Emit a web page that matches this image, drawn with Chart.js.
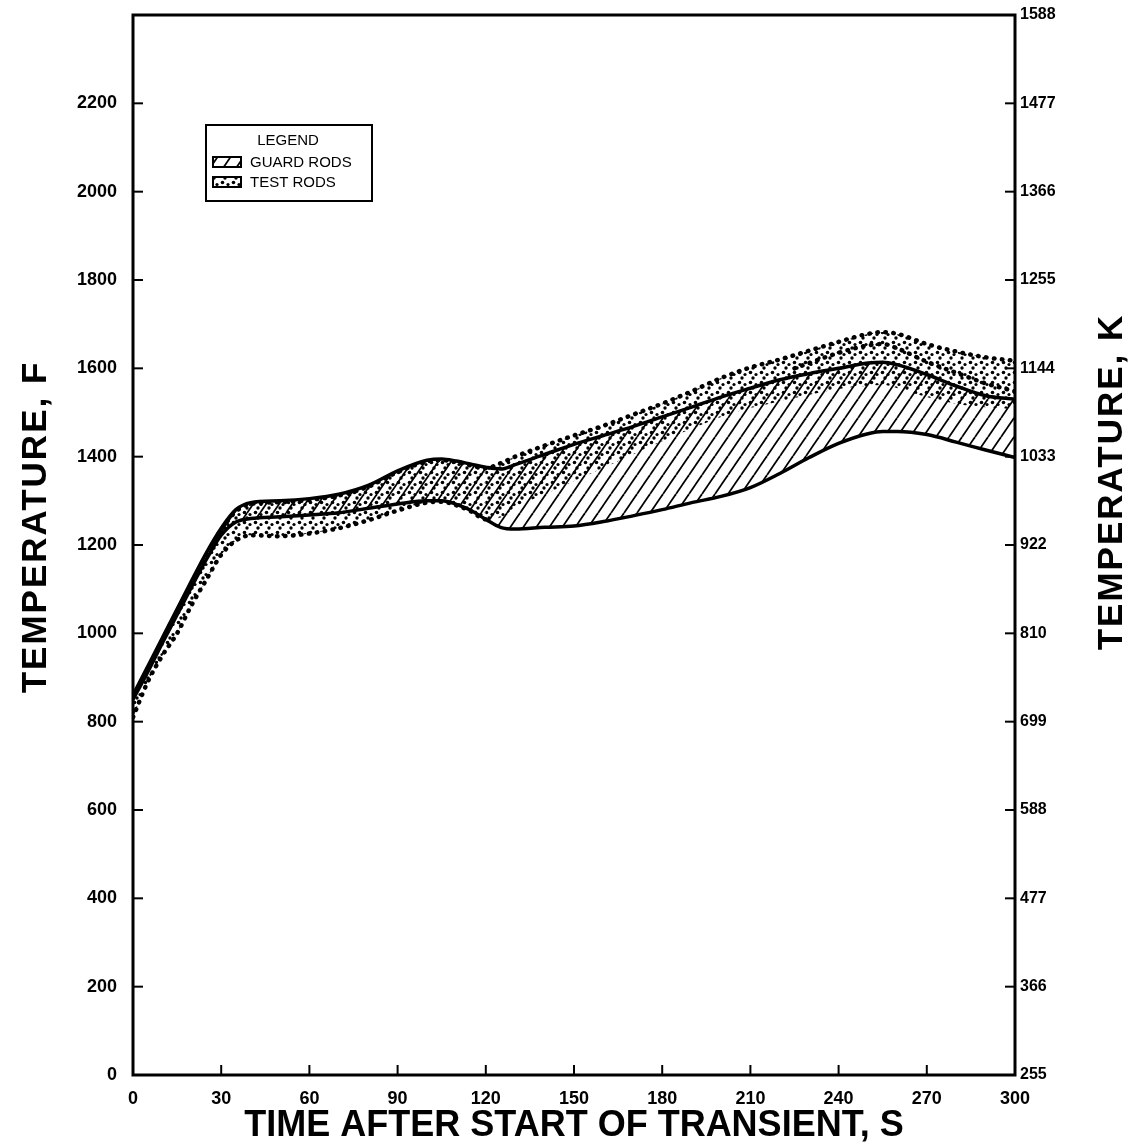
<!DOCTYPE html>
<html><head><meta charset="utf-8">
<script src="https://cdn.jsdelivr.net/npm/chart.js@4.4.0/dist/chart.umd.min.js"></script>
<style>html,body{margin:0;padding:0;background:#fff;}</style>
</head><body>
<canvas id="c" width="1132" height="1148"></canvas>
<script>
// ---- data ----
const times = [0,5,10,15,20,25,30,35,40,50,60,70,80,90,100,105,110,115,120,125,130,140,150,160,170,180,190,200,210,220,230,240,250,255,260,270,280,290,300];
const guardUpper = [860,925,990,1055,1120,1183,1238,1280,1296,1300,1305,1315,1335,1368,1392,1395,1390,1383,1376,1372,1382,1405,1428,1448,1468,1490,1512,1535,1555,1574,1588,1600,1612,1614,1608,1586,1560,1538,1530];
const guardLower = [850,912,978,1042,1106,1168,1222,1252,1260,1264,1268,1273,1283,1293,1300,1300,1292,1278,1258,1240,1236,1240,1243,1253,1266,1280,1296,1310,1330,1362,1398,1430,1452,1457,1457,1450,1433,1415,1398];
const testUpper = [855,920,985,1050,1115,1178,1234,1276,1293,1297,1302,1312,1332,1365,1389,1392,1388,1380,1374,1385,1400,1425,1448,1470,1495,1520,1548,1578,1602,1620,1640,1660,1678,1682,1678,1655,1638,1625,1617];
const testLower = [810,890,950,1000,1065,1122,1178,1210,1222,1220,1226,1238,1256,1278,1296,1298,1290,1276,1258,1262,1285,1315,1345,1375,1405,1435,1463,1490,1510,1525,1540,1553,1560,1562,1555,1535,1520,1512,1508];
const innerTimes = [225,230,240,250,255,260,270,280,290,300];
const testInner = [1600,1612,1635,1652,1655,1645,1615,1590,1566,1548];

const xTickLabels = ['0','30','60','90','120','150','180','210','240','270','300'];
const leftTickLabels = ['0','200','400','600','800','1000','1200','1400','1600','1800','2000','2200',''];
const rightTickLabels = ['255','366','477','588','699','810','922','1033','1144','1255','1366','1477','1588'];
const legendTitle = 'LEGEND';
const legendLabels = ['GUARD RODS','TEST RODS'];
const xTitle = 'TIME AFTER START OF TRANSIENT, S';
const yTitle = 'TEMPERATURE, F';
const yKTitle = 'TEMPERATURE, K';

// ---- patterns ----
function hatchPattern(){
  const w=13,h=19,c=document.createElement('canvas');c.width=w;c.height=h;
  const g=c.getContext('2d');g.strokeStyle='#000';g.lineWidth=1.8;
  for(let k=-1;k<=1;k++){g.beginPath();g.moveTo(k*w,h);g.lineTo((k+1)*w,0);g.stroke();}
  return g.createPattern(c,'repeat');
}
function dotPattern(){
  const w=11,h=10,c=document.createElement('canvas');c.width=w;c.height=h;
  const g=c.getContext('2d');g.fillStyle='#000';
  [[2.5,2.5,1.8],[8,4.5,1.6],[5,8,1.7]].forEach(d=>{g.beginPath();g.arc(d[0],d[1],d[2],0,Math.PI*2);g.fill();});
  return g.createPattern(c,'repeat');
}
const HATCH=hatchPattern(), DOTS=dotPattern();

const pts=(tt,arr)=>tt.map((t,i)=>({x:t,y:arr[i]}));
const FONT='"Liberation Sans", Arial, sans-serif';

const decor={
  id:'decor',
  afterDraw(chart){
    const ctx=chart.ctx,a=chart.chartArea;
    const x=chart.scales.x,y=chart.scales.y,yk=chart.scales.yK;
    ctx.save();
    ctx.strokeStyle='#000';ctx.lineWidth=3;
    ctx.strokeRect(a.left,a.top,a.right-a.left,a.bottom-a.top);
    ctx.lineWidth=2;
    const ln=(x1,y1,x2,y2)=>{ctx.beginPath();ctx.moveTo(x1,y1);ctx.lineTo(x2,y2);ctx.stroke();};
    x.ticks.forEach((t,i)=>{const p=x.getPixelForTick(i);ln(p,a.bottom,p,a.bottom-10);});
    y.ticks.forEach((t,i)=>{const p=y.getPixelForTick(i);ln(a.left,p,a.left+10,p);});
    yk.ticks.forEach((t,i)=>{const p=yk.getPixelForTick(i);ln(a.right,p,a.right-10,p);});
    // titles
    ctx.fillStyle='#000';ctx.textAlign='center';ctx.textBaseline='middle';
    ctx.font='bold 36px '+FONT;
    ctx.fillText(xTitle,(a.left+a.right)/2,1126);
    ctx.font='bold 35px '+FONT;
    ctx.letterSpacing='2px';
    ctx.save();ctx.translate(36,527);ctx.rotate(-Math.PI/2);ctx.fillText(yTitle,0,0);ctx.restore();
    ctx.save();ctx.translate(1112,482);ctx.rotate(-Math.PI/2);ctx.fillText(yKTitle,0,0);ctx.restore();
    ctx.letterSpacing='0px';
    // legend
    ctx.lineWidth=2;ctx.strokeRect(206,125,166,76);
    ctx.font='15px '+FONT;
    ctx.fillText(legendTitle,288,141);
    ctx.textAlign='left';
    const sw=[HATCH,DOTS];
    legendLabels.forEach((lab,i)=>{
      const yy=162+i*20;
      ctx.fillStyle='#fff';ctx.fillRect(213,yy-5,28,10);
      ctx.fillStyle=sw[i];ctx.fillRect(213,yy-5,28,10);
      ctx.strokeRect(213,yy-5,28,10);
      ctx.fillStyle='#000';ctx.fillText(lab,250,yy+1);
    });
    ctx.restore();
  }
};

const solid={borderColor:'#000',borderWidth:3.5,pointRadius:0,cubicInterpolationMode:'monotone'};
const dotted={borderColor:'#000',borderWidth:4.5,borderDash:[0.5,7.5],borderCapStyle:'round',pointRadius:0,cubicInterpolationMode:'monotone'};

new Chart(document.getElementById('c'),{
  type:'line',
  data:{datasets:[
    Object.assign({label:'Guard rods upper',data:pts(times,guardUpper),fill:'+1',backgroundColor:HATCH},solid),
    Object.assign({label:'Guard rods lower',data:pts(times,guardLower),fill:false},solid),
    Object.assign({label:'Test rods upper',data:pts(times,testUpper),fill:'+1',backgroundColor:DOTS},dotted),
    Object.assign({label:'Test rods lower',data:pts(times,testLower),fill:false,
      segment:{borderColor:c=>c.p0.parsed.x>=118?'rgba(0,0,0,0)':'#000'}},dotted),
    Object.assign({label:'Test rods inner',data:pts(innerTimes,testInner),fill:false},dotted)
  ]},
  options:{
    responsive:false,animation:false,devicePixelRatio:1,
    layout:{padding:{top:15,left:0,right:0,bottom:0}},
    plugins:{legend:{display:false},tooltip:{enabled:false}},
    scales:{
      x:{type:'linear',position:'bottom',min:0,max:300,
        grid:{display:false,drawTicks:false},border:{display:false},
        ticks:{stepSize:30,autoSkip:false,maxRotation:0,padding:13,color:'#000',font:{family:FONT,size:18,weight:'bold'},
          callback:(v,i)=>xTickLabels[i]},
        afterFit:s=>{s.height=73;s.paddingLeft=0;s.paddingRight=0;}},
      y:{type:'linear',position:'left',min:0,max:2400,
        grid:{display:false,drawTicks:false},border:{display:false},
        ticks:{stepSize:200,autoSkip:false,padding:16,color:'#000',font:{family:FONT,size:18,weight:'bold'},
          callback:(v,i)=>leftTickLabels[i]},
        afterFit:s=>{s.width=133;s.paddingTop=0;s.paddingBottom=0;}},
      yK:{type:'linear',position:'right',min:0,max:2400,
        grid:{display:false,drawTicks:false},border:{display:false},
        ticks:{stepSize:200,autoSkip:false,padding:5,color:'#000',font:{family:FONT,size:16,weight:'bold'},
          callback:(v,i)=>rightTickLabels[i]},
        afterFit:s=>{s.width=117;s.paddingTop=0;s.paddingBottom=0;}}
    }
  },
  plugins:[decor]
});
</script>
</body></html>
